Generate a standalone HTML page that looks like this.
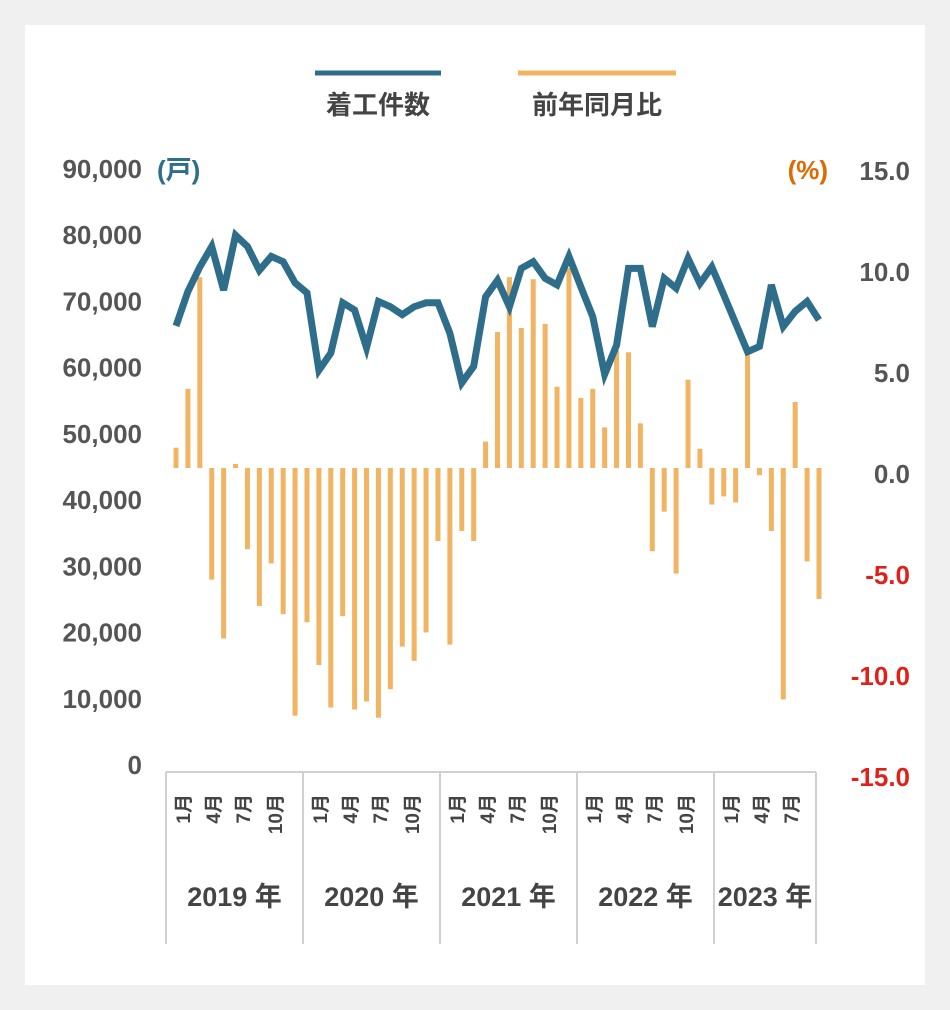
<!DOCTYPE html>
<html><head><meta charset="utf-8"><style>
body{margin:0;background:#f0f0f0;}
svg{display:block;font-family:"Liberation Sans","Noto Sans CJK JP",sans-serif;}
</style></head><body>
<svg id="chart" width="950" height="1010">
<rect x="0" y="0" width="950" height="1010" fill="#f0f0f0"/>
<rect x="25" y="25" width="900" height="960" fill="#ffffff"/>
<g>
<line x1="315" y1="73" x2="441" y2="73" stroke="#2e6e8a" stroke-width="5"/>
<text x="378" y="114" text-anchor="middle" font-size="26" font-weight="bold" fill="#444">着工件数</text>
<line x1="518" y1="73" x2="676" y2="73" stroke="#f0b462" stroke-width="5"/>
<text x="597" y="114" text-anchor="middle" font-size="26" font-weight="bold" fill="#444">前年同月比</text>
</g>
<text x="157" y="179" font-size="26" font-weight="bold" fill="#2e6e8a">(戸)</text>
<text x="828" y="179" text-anchor="end" font-size="26" font-weight="bold" fill="#e06a00">(%)</text>
<g id="leftAxis"></g>
<g id="rightAxis"></g>
<g id="bars"></g>
<g id="lineG"></g>
<g id="xAxis"></g>
</svg>
<script>
const months = 55; // Jan 2019 – Jul 2023
const starts = [66.3,71.5,75.2,78.3,71.7,80.0,78.3,74.7,76.8,76.0,72.8,71.3,
59.6,62.2,69.8,68.7,63.0,70.0,69.2,68.0,69.2,69.8,69.8,65.2,
57.7,60.2,70.7,73.2,69.2,75.0,76.0,73.5,72.5,76.8,72.2,67.7,
59.0,63.4,75.0,75.0,66.2,73.5,72.0,76.5,72.7,75.2,71.0,66.7,
62.4,63.2,72.5,66.2,68.5,70.0,67.2].map(v=>v*1000);
const yoy = [1.0,3.9,9.4,-5.5,-8.4,0.2,-4.0,-6.8,-4.7,-7.2,-12.2,-7.6,
-9.7,-11.8,-7.3,-11.9,-11.5,-12.3,-10.9,-8.8,-9.5,-8.1,-3.6,-8.7,
-3.1,-3.6,1.3,6.7,9.4,6.9,9.3,7.1,4.0,9.85,3.45,3.9,
2.0,5.8,5.7,2.2,-4.1,-2.15,-5.2,4.35,0.95,-1.8,-1.4,-1.7,
5.7,-0.35,-3.1,-11.4,3.25,-4.6,-6.45];
const leftTicks = [0,10000,20000,30000,40000,50000,60000,70000,80000,90000];
const leftTickLabels = ["0","10,000","20,000","30,000","40,000","50,000","60,000","70,000","80,000","90,000"];
const rightTicks = [15,10,5,0,-5,-10,-15];
const rightTickLabels = ["15.0","10.0","5.0","0.0","-5.0","-10.0","-15.0"];
const years = ["2019 年","2020 年","2021 年","2022 年","2023 年"];
const yearMonthLabels = [["1月","4月","7月","10月"],["1月","4月","7月","10月"],["1月","4月","7月","10月"],["1月","4月","7月","10月"],["1月","4月","7月"]];

const NS="http://www.w3.org/2000/svg";
function mk(tag,attrs,parent){const e=document.createElementNS(NS,tag);for(const k in attrs)e.setAttribute(k,attrs[k]);parent.appendChild(e);return e;}
const xS = i => 176 + i*(819-176)/(months-1);
const yL = v => 765 - v*(765-169)/90000;
const yR = v => 468 - v*20.3;

const la=document.getElementById('leftAxis');
leftTicks.forEach((t,i)=>{const e=mk('text',{x:142,y:yL(t)+9,'text-anchor':'end','font-size':26,'font-weight':'bold',fill:'#555'},la);e.textContent=leftTickLabels[i];

});
const ra=document.getElementById('rightAxis');
rightTicks.forEach((t,i)=>{const y=474-t*20.2;const e=mk('text',{x:910,y:y+9,'text-anchor':'end','font-size':26,'font-weight':'bold',fill:t<0?'#e0201a':'#555'},ra);e.textContent=rightTickLabels[i];

});

const bg=document.getElementById('bars');
yoy.forEach((v,i)=>{const y0=yR(0),y1=yR(v);const r=mk('rect',{x:xS(i)-2.5,y:Math.min(y0,y1),width:5,height:Math.max(Math.abs(y1-y0),1),fill:'#f0b462'},bg);

});

const lg=document.getElementById('lineG');
const pl=mk('polyline',{points:starts.map((v,i)=>xS(i)+','+yL(v)).join(' '),fill:'none',stroke:'#2e6e8a','stroke-width':7,'stroke-linejoin':'miter','stroke-linecap':'butt'},lg);



const xa=document.getElementById('xAxis');
const bounds=[166,303,440,577,714,816];
const hl=mk('line',{x1:166,y1:772,x2:816,y2:772,stroke:'#d0d0d0','stroke-width':2},xa);


bounds.forEach(b=>{const l=mk('line',{x1:b,y1:772,x2:b,y2:944,stroke:'#d0d0d0','stroke-width':2},xa);

});
const offs=[17,47,77,109];
years.forEach((yr,g)=>{
 const gx=bounds[g];
 yearMonthLabels[g].forEach((m,j)=>{const x=gx+offs[j];const t=mk('text',{x:0,y:0,transform:`translate(${x+7},794) rotate(-90)`,'text-anchor':'end','font-size':19,'font-weight':'bold',fill:'#444'},xa);t.textContent=m;
 
 });
 const t=mk('text',{x:(gx+bounds[g+1])/2,y:906,'text-anchor':'middle','font-size':27,'font-weight':'bold',fill:'#444'},xa);t.textContent=yr;
 
 
});
</script>
</body></html>
